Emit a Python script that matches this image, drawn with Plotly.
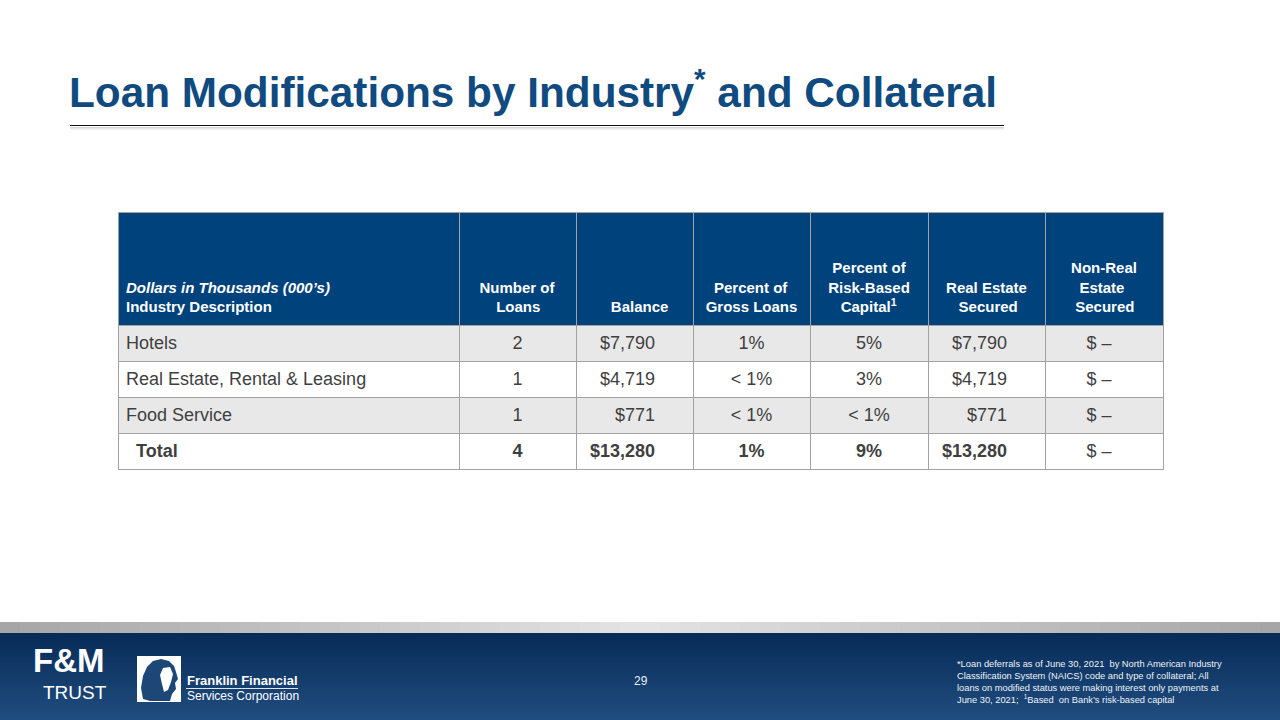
import plotly.graph_objects as go

# ---------------- data ----------------
industries = ["Hotels", "Real Estate, Rental & Leasing", "Food Service", "Total"]
num_loans = [2, 1, 1, 4]
balance = [7790, 4719, 771, 13280]
pct_gross_loans = ["1%", "< 1%", "< 1%", "1%"]
pct_risk_based_capital = ["5%", "3%", "< 1%", "9%"]
real_estate_secured = [7790, 4719, 771, 13280]
non_real_estate_secured = [0, 0, 0, 0]

header_labels = [
    "<i>Dollars in Thousands (000’s)</i><br>Industry Description",
    "Number of<br>Loans",
    "Balance",
    "Percent of<br>Gross Loans",
    "Percent of<br>Risk-Based<br>Capital<sup>1</sup>",
    "Real Estate<br>Secured",
    "Non-Real<br>Estate<br>Secured",
]

title_text = "Loan Modifications by Industry<sup>*</sup> and Collateral"
footnote_lines = [
    "*Loan deferrals as of June 30, 2021  by North American Industry",
    "Classification System (NAICS) code and type of collateral; All",
    "loans on modified status were making interest only payments at",
    "June 30, 2021;  <sup>1</sup>Based  on Bank’s risk-based capital",
]
page_number = "29"

# ---------------- styling ----------------
W, H = 1280, 720
FONT = "Liberation Sans, Arial, sans-serif"
HEADER_BLUE = "#00427b"
TITLE_BLUE = "#0f4a80"
BORDER = "#a3a3a3"
BODY_TEXT = "#3f3f3f"
ROW_FILLS = ["#e8e8e8", "#ffffff", "#e8e8e8", "#ffffff"]
NB = "\u00a0"

# Arial/Liberation Sans Bold advance widths (1/1000 em) used to centre header lines
BOLD_W = {" ": 278, "-": 333, "A": 722, "B": 722, "C": 722, "D": 722, "E": 667, "F": 611,
          "G": 778, "H": 722, "I": 278, "L": 611, "N": 722, "P": 667, "R": 722, "S": 667,
          "a": 556, "b": 611, "c": 556, "d": 611, "e": 556, "f": 333, "g": 611, "h": 611,
          "i": 278, "l": 278, "m": 889, "n": 611, "o": 611, "p": 611, "r": 389, "s": 556,
          "t": 333, "u": 611, "1": 389}


def px(x):
    return x / W


def py(y):
    return 1 - y / H


def money(v):
    return f"${v:,}" if v else "$ –"


def line_width(s):
    s = s.replace("<sup>", "").replace("</sup>", "")
    return sum(BOLD_W.get(ch, 556) for ch in s)


def pad_header(lbl, center, n=5):
    lines = lbl.split("<br>")
    if center:
        mw = max(line_width(l) for l in lines)
        lines = [NB * int(round((mw - line_width(l)) / 2 / 278)) + l for l in lines]
    lines = [NB] * (n - len(lines)) + [f"<b>{l}</b>" for l in lines]
    return "<br>".join(lines)


last = len(industries) - 1


def fmt(i, s, bold=True):
    return f"<b>{s}</b>" if (i == last and bold) else f"<span>{s}</span>"


col_industry = [(NB * 2 + f"<b>{s}</b>") if i == last else f"<span>{s}</span>"
                for i, s in enumerate(industries)]
col_loans = [fmt(i, str(v)) for i, v in enumerate(num_loans)]
col_balance = [fmt(i, money(v)) + NB * 6 for i, v in enumerate(balance)]
col_gross = [fmt(i, s) for i, s in enumerate(pct_gross_loans)]
col_rbc = [fmt(i, s) for i, s in enumerate(pct_risk_based_capital)]
col_re = [fmt(i, money(v)) + NB * 6 for i, v in enumerate(real_estate_secured)]
col_nre = [fmt(i, money(v), bold=False) + NB * 2 for i, v in enumerate(non_real_estate_secured)]

header_align = ["left", "center", "right", "center", "center", "center", "center"]
hdr = [pad_header(h, a == "center") for h, a in zip(header_labels, header_align)]
hdr[2] = hdr[2].replace("Balance</b>", "Balance" + NB * 4 + "</b>")

fig = go.Figure()

fig.add_trace(go.Table(
    domain=dict(x=[px(118), px(1163)], y=[py(500), py(212)]),
    columnwidth=[341, 117, 117, 117, 118, 117, 118],
    header=dict(
        values=hdr,
        fill_color=HEADER_BLUE,
        line=dict(color=BORDER, width=1),
        align=header_align,
        font=dict(family=FONT, size=15, color="white"),
        height=113,
    ),
    cells=dict(
        values=[col_industry, col_loans, col_balance, col_gross, col_rbc, col_re, col_nre],
        fill_color=[ROW_FILLS] * 7,
        line=dict(color=BORDER, width=1),
        align=["left", "center", "right", "center", "center", "right", "center"],
        font=dict(family=FONT, size=18, color=BODY_TEXT),
        height=35.8,
    ),
))

shapes = []

# title rule with soft shadow
shapes.append(dict(type="line", xref="paper", yref="paper", x0=px(70), x1=px(1004),
                   y0=py(125.5), y1=py(125.5), line=dict(color="#111111", width=1)))
for dy, c in [(2, "#d6d6d6"), (3, "#e6e6e6"), (4, "#f2f2f2")]:
    shapes.append(dict(type="line", xref="paper", yref="paper", x0=px(70), x1=px(1004),
                       y0=py(125.5 + dy), y1=py(125.5 + dy), line=dict(color=c, width=1)))

# grey band (horizontal gradient)
n_strips = 64
for k in range(n_strips):
    x0 = k * W / n_strips
    x1 = (k + 1) * W / n_strips
    t = abs((x0 + x1) / 2 - 640) / 640
    g = int(228 - 62 * t)
    shapes.append(dict(type="rect", xref="paper", yref="paper", x0=px(x0), x1=px(x1) + 0.0005,
                       y0=py(633), y1=py(622), line=dict(width=0), fillcolor=f"rgb({g},{g},{g})",
                       layer="below"))

# blue footer (vertical gradient)
top_c = (8, 44, 88)
bot_c = (31, 77, 127)
n_v = 29
for k in range(n_v):
    y0 = 633 + k * 3
    y1 = y0 + 3
    t = k / (n_v - 1)
    c = tuple(int(top_c[i] + (bot_c[i] - top_c[i]) * t) for i in range(3))
    shapes.append(dict(type="rect", xref="paper", yref="paper", x0=0, x1=1,
                       y0=py(y1) - 0.0005, y1=py(y0), line=dict(width=0),
                       fillcolor=f"rgb({c[0]},{c[1]},{c[2]})", layer="below"))

# Franklin Financial logo box
shapes.append(dict(type="rect", xref="paper", yref="paper", x0=px(137), x1=px(181),
                   y0=py(702), y1=py(656), line=dict(width=0), fillcolor="white"))


def path_from(points):
    return "M " + " L ".join(f"{px(x):.5f},{py(y):.5f}" for x, y in points) + " Z"


head = [(143, 699), (141, 688), (143, 676), (147, 667), (153, 661), (161, 659), (169, 661),
        (174, 666), (176, 672), (178, 679), (175, 683), (176, 689), (172, 694), (170, 701), (150, 701)]
shapes.append(dict(type="path", xref="paper", yref="paper", path=path_from(head),
                   fillcolor="#1c4776", line=dict(width=0)))
face = [(163, 668), (170, 667), (173, 674), (171, 682), (168, 690), (164, 692), (162, 684), (160, 675)]
shapes.append(dict(type="path", xref="paper", yref="paper", path=path_from(face),
                   fillcolor="white", line=dict(width=0)))
shapes.append(dict(type="line", xref="paper", yref="paper", x0=px(186), x1=px(298),
                   y0=py(688.5), y1=py(688.5), line=dict(color="#dfe6ef", width=1)))

annotations = []
annotations.append(dict(text=f"<b>{title_text}</b>", xref="paper", yref="paper",
                        x=px(67), y=py(89), xanchor="left", yanchor="middle", showarrow=False,
                        font=dict(family=FONT, size=42.3, color=TITLE_BLUE)))

annotations.append(dict(text="<br>".join(footnote_lines), xref="paper", yref="paper",
                        x=px(955), y=py(682), xanchor="left", yanchor="middle", align="left",
                        showarrow=False, font=dict(family=FONT, size=9.3, color="#eef2f7")))

annotations.append(dict(text=page_number, xref="paper", yref="paper", x=px(641), y=py(681),
                        xanchor="center", yanchor="middle", showarrow=False,
                        font=dict(family=FONT, size=12, color="#e8edf4")))

# F&M TRUST logo text
annotations.append(dict(text="<b>F&amp;M</b>", xref="paper", yref="paper", x=px(68), y=py(660),
                        xanchor="center", yanchor="middle", showarrow=False, borderpad=0,
                        font=dict(family=FONT, size=33, color="white")))
annotations.append(dict(text="TRUST", xref="paper", yref="paper", x=px(108), y=py(692),
                        xanchor="right", yanchor="middle", showarrow=False, borderpad=0,
                        font=dict(family=FONT, size=19, color="white")))
annotations.append(dict(text="<b>Franklin Financial</b>", xref="paper", yref="paper",
                        x=px(185), y=py(680), xanchor="left", yanchor="middle", showarrow=False,
                        font=dict(family=FONT, size=13, color="white")))
annotations.append(dict(text="Services Corporation", xref="paper", yref="paper",
                        x=px(185), y=py(696), xanchor="left", yanchor="middle", showarrow=False,
                        font=dict(family=FONT, size=12, color="white")))

fig.update_layout(
    width=W, height=H,
    margin=dict(l=0, r=0, t=0, b=0),
    paper_bgcolor="white",
    plot_bgcolor="white",
    shapes=shapes,
    annotations=annotations,
    showlegend=False,
)

fig.write_html("out.html", config={"displayModeBar": False},
               post_script="document.body.style.margin='0px';document.body.style.overflow='hidden';")
